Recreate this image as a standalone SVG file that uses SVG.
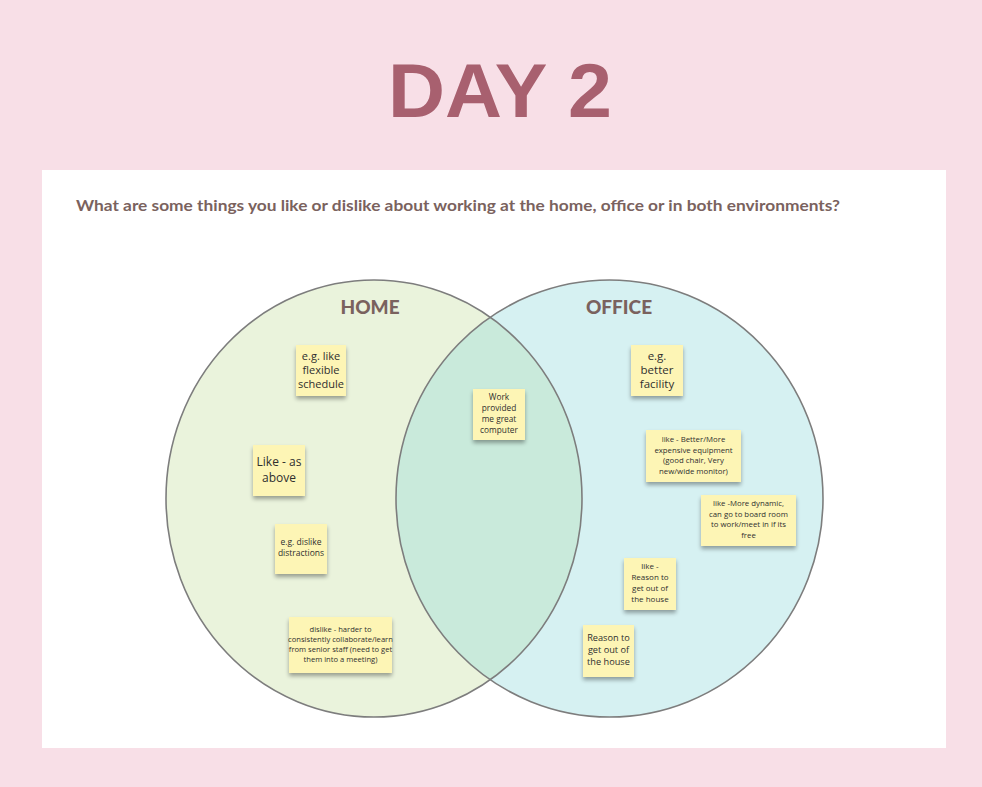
<svg xmlns="http://www.w3.org/2000/svg" width="982" height="787" viewBox="0 0 982 787">
  <defs>
    <filter id="shadow" x="-20%" y="-20%" width="140%" height="160%">
      <feGaussianBlur in="SourceAlpha" stdDeviation="2"/>
      <feOffset dx="0" dy="3"/>
      <feComponentTransfer><feFuncA type="linear" slope="0.35"/></feComponentTransfer>
      <feMerge><feMergeNode/><feMergeNode in="SourceGraphic"/></feMerge>
    </filter>
    <clipPath id="homeClip">
      <ellipse cx="374" cy="498.5" rx="208" ry="218.5"/>
    </clipPath>
  </defs>
  <style>
    .title { font-family: "Liberation Sans", "Lato", sans-serif; font-weight: 700; fill: #a8606f; }
    .question { font-family: "Lato", "Liberation Sans", sans-serif; font-weight: 700; font-size: 15px; fill: #7a625e; }
    .set-label { font-family: "Lato", "Liberation Sans", sans-serif; font-weight: 900; font-size: 19px; fill: #7a625e; text-anchor: middle; }
    .set { stroke: #7d7d7d; stroke-width: 1.6; }
    .note rect { fill: #fdf5b5; filter: url(#shadow); }
    .note text { font-family: "Open Sans", "Noto Sans", sans-serif; fill: #2f2f2f; text-anchor: middle; }
  </style>

  <!-- background and panel -->
  <rect x="0" y="0" width="982" height="787" fill="#f8dfe7"/>
  <rect x="42" y="170" width="904" height="578" fill="#ffffff"/>

  <text class="title" x="388" y="117" font-size="76" textLength="224" lengthAdjust="spacingAndGlyphs">DAY 2</text>
  <text class="question" x="76" y="211" textLength="764" lengthAdjust="spacingAndGlyphs">What are some things you like or dislike about working at the home, office or in both environments?</text>

  <!-- venn sets -->
  <g id="sets">
    <ellipse id="home-set" cx="374" cy="498.5" rx="208" ry="218.5" fill="#eaf3dc"/>
    <ellipse id="office-set" cx="609.5" cy="498.5" rx="213.5" ry="218.5" fill="#d6f1f2"/>
    <ellipse cx="609.5" cy="498.5" rx="213.5" ry="218.5" fill="#c9eadb" clip-path="url(#homeClip)"/>
    <ellipse class="set" cx="374" cy="498.5" rx="208" ry="218.5" fill="none"/>
    <ellipse class="set" cx="609.5" cy="498.5" rx="213.5" ry="218.5" fill="none"/>
    <text class="set-label" x="370" y="314">HOME</text>
    <text class="set-label" x="619" y="314">OFFICE</text>
  </g>

  <!-- sticky notes: home -->
  <g id="note-flexible" class="note">
    <rect x="296" y="345" width="50" height="51"/>
    <text font-size="11"><tspan x="321" y="360">e.g. like</tspan><tspan x="321" y="374">flexible</tspan><tspan x="321" y="388">schedule</tspan></text>
  </g>
  <g id="note-like-above" class="note">
    <rect x="253" y="445" width="52" height="51"/>
    <text font-size="12"><tspan x="279" y="466">Like - as</tspan><tspan x="279" y="482">above</tspan></text>
  </g>
  <g id="note-distractions" class="note">
    <rect x="275" y="524" width="52" height="50"/>
    <text font-size="8.5"><tspan x="301" y="545">e.g. dislike</tspan><tspan x="301" y="556">distractions</tspan></text>
  </g>
  <g id="note-collaborate" class="note">
    <rect x="289" y="617" width="103" height="56"/>
    <text font-size="7.6"><tspan x="340.5" y="632">dislike - harder to</tspan><tspan x="340.5" y="642">consistently collaborate/learn</tspan><tspan x="340.5" y="652">from senior staff (need to get</tspan><tspan x="340.5" y="662">them into a meeting)</tspan></text>
  </g>

  <!-- sticky notes: both -->
  <g id="note-computer" class="note">
    <rect x="473" y="389" width="52" height="51"/>
    <text font-size="8.3"><tspan x="499" y="400">Work</tspan><tspan x="499" y="411">provided</tspan><tspan x="499" y="422">me great</tspan><tspan x="499" y="433">computer</tspan></text>
  </g>

  <!-- sticky notes: office -->
  <g id="note-facility" class="note">
    <rect x="631" y="345" width="52" height="51"/>
    <text font-size="11.5"><tspan x="657" y="360">e.g.</tspan><tspan x="657" y="374">better</tspan><tspan x="657" y="388">facility</tspan></text>
  </g>
  <g id="note-equipment" class="note">
    <rect x="646" y="430" width="95" height="52"/>
    <text font-size="7.8"><tspan x="693.5" y="442">like - Better/More</tspan><tspan x="693.5" y="452.5">expensive equipment</tspan><tspan x="693.5" y="463">(good chair, Very</tspan><tspan x="693.5" y="473.5">new/wide monitor)</tspan></text>
  </g>
  <g id="note-dynamic" class="note">
    <rect x="701" y="495" width="95" height="51"/>
    <text font-size="7.8"><tspan x="748.5" y="506">like -More dynamic,</tspan><tspan x="748.5" y="516.5">can go to board room</tspan><tspan x="748.5" y="527">to work/meet in if its</tspan><tspan x="748.5" y="537.5">free</tspan></text>
  </g>
  <g id="note-like-reason" class="note">
    <rect x="624" y="558" width="52" height="52"/>
    <text font-size="8"><tspan x="650" y="569">like -</tspan><tspan x="650" y="580">Reason to</tspan><tspan x="650" y="591">get out of</tspan><tspan x="650" y="602">the house</tspan></text>
  </g>
  <g id="note-reason" class="note">
    <rect x="583" y="625" width="51" height="52"/>
    <text font-size="9.2"><tspan x="608.5" y="641">Reason to</tspan><tspan x="608.5" y="653">get out of</tspan><tspan x="608.5" y="665">the house</tspan></text>
  </g>
</svg>
